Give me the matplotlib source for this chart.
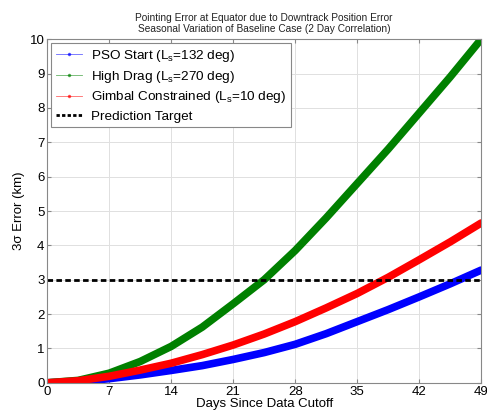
import numpy as np
import matplotlib
matplotlib.use('Agg')
import matplotlib.pyplot as plt
from matplotlib.lines import Line2D

plt.rcParams['font.family'] = ['Liberation Sans', 'DejaVu Sans']
plt.rcParams['mathtext.default'] = 'regular'

# values
days = [0, 3.5, 7, 10.5, 14, 17.5, 21, 24.5, 28, 31.5, 35, 38.5, 42, 45.5, 49]
pso_start = [0, 0.03, 0.12, 0.23, 0.36, 0.50, 0.68, 0.88, 1.12, 1.43, 1.78, 2.13, 2.50, 2.88, 3.28]
high_drag = [0, 0.07, 0.28, 0.62, 1.06, 1.62, 2.30, 3.00, 3.85, 4.80, 5.80, 6.80, 7.85, 8.90, 10.0]
gimbal = [0, 0.06, 0.19, 0.37, 0.57, 0.82, 1.10, 1.42, 1.78, 2.18, 2.60, 3.07, 3.58, 4.10, 4.65]
target = 3.0

labels = ['PSO Start (L$_s$=132 deg)', 'High Drag (L$_s$=270 deg)',
          'Gimbal Constrained (L$_s$=10 deg)', 'Prediction Target']
colors = ['#0000ff', '#008000', '#ff0000']
xticks = [0, 7, 14, 21, 28, 35, 42, 49]

fig = plt.figure(figsize=(4.87, 4.17), dpi=100)
ax = fig.add_axes([0.097, 0.082, 0.891, 0.824])

for vals, c in zip([pso_start, high_drag, gimbal], colors):
    ax.plot(days, vals, color=c, lw=5.5, solid_capstyle='round',
            solid_joinstyle='round')
ax.axhline(target, color='black', lw=2, ls=(0, (2, 1.2)))

ax.set_xlim(0, 49)
ax.set_ylim(0, 10)
ax.set_xticks(xticks)
ax.set_yticks(range(0, 11))
ax.grid(True, color='#e0e0e0', lw=0.7)
ax.set_axisbelow(True)
ax.tick_params(direction='in', top=True, right=True, labelsize=9.5, length=3,
               color='#888888', pad=2)
for s in ax.spines.values():
    s.set_color('#888888')
    s.set_linewidth(0.8)

ax.set_xlabel('Days Since Data Cutoff', fontsize=9.5, labelpad=0)
ax.set_ylabel('3σ Error (km)', fontsize=9.5, labelpad=3)
ax.set_title('Pointing Error at Equator due to Downtrack Position Error\n'
             'Seasonal Variation of Baseline Case (2 Day Correlation)',
             fontsize=7.3, color='#222222', pad=5)

handles = [Line2D([], [], color=c, lw=0.6, marker='.', markersize=3, alpha=0.6)
           for c in colors]
handles.append(Line2D([], [], color='black', lw=2, ls=(0, (1.2, 0.8))))
leg = ax.legend(handles, labels, loc='upper left', fontsize=9.7, frameon=True,
                fancybox=False, edgecolor='#888888', framealpha=1,
                handlelength=1.9, handletextpad=0.7, borderaxespad=0.3,
                labelspacing=0.35, borderpad=0.35)
leg.get_frame().set_linewidth(0.8)

plt.savefig('out.png', dpi=100)
plt.close()
